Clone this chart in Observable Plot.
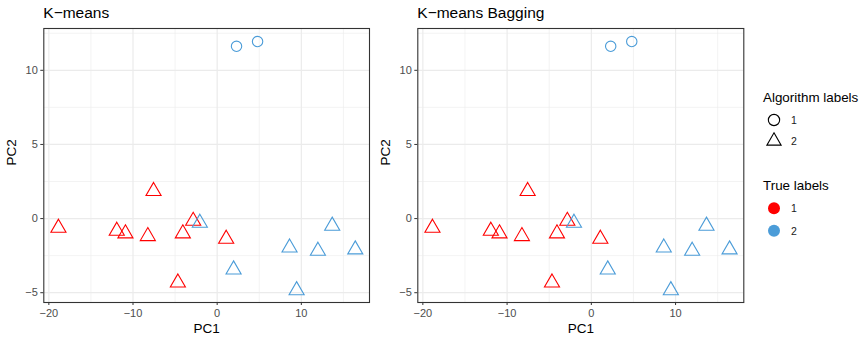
<!DOCTYPE html>
<html><head><meta charset="utf-8">
<script src="https://cdn.jsdelivr.net/npm/d3@7"></script>
<script src="https://cdn.jsdelivr.net/npm/@observablehq/plot@0.6"></script>
<style>
body{margin:0;background:#fff;font-family:"Liberation Sans",Arial,sans-serif}
#root{position:relative;width:865px;height:340px;overflow:hidden;background:#fff}
#root svg{position:absolute;top:0}
</style></head><body><div id="root"></div>
<script>
// ---- data ----
const pc1   = [2.3, 4.8, -18.86, -11.93, -10.9, -8.24, -7.56, -4.08, -2.85, -2.06, 1.07, -4.67, 1.95, 8.6, 11.97, 13.67, 16.41, 9.44];
const pc2   = [11.62, 11.94, -0.63, -0.83, -1.01, -1.19, 1.85, -1.01, -0.16, -0.29, -1.37, -4.32, -3.44, -1.96, -2.18, -0.49, -2.09, -4.84];
const algo  = [1, 1, 2, 2, 2, 2, 2, 2, 2, 2, 2, 2, 2, 2, 2, 2, 2, 2];
const truth = [2, 2, 1, 1, 1, 1, 1, 1, 1, 2, 1, 1, 2, 2, 2, 2, 2, 2];
const panelTitles = ["K\u2212means", "K\u2212means Bagging"];
const xTicks = [-20, -10, 0, 10];
const xMinor = [-15, -5, 5, 15];
const yTicks = [-5, 0, 5, 10];
const yMinor = [-2.5, 2.5, 7.5, 12.5];
const algoLabels = [1, 2];
const trueLabels = [1, 2];
const trueColors = ["#FF0000", "#4B9CD8"];
const algoSymbols = ["circle", "triangle"];

const data = pc1.map((x, i) => ({pc1: x, pc2: pc2[i], algo: algo[i], truth: truth[i]}));
const FONT = '"Liberation Sans", Arial, sans-serif';
const root = document.getElementById("root");

function panel(left, ml, mr) {
  const p = Plot.plot({
    width: 375, height: 340,
    marginLeft: ml, marginRight: mr, marginTop: 28, marginBottom: 38,
    style: {fontFamily: FONT, fontSize: "11px", color: "#4D4D4D", background: "transparent", overflow: "visible"},
    x: {domain: [-20.6, 18.1]},
    y: {domain: [-5.66, 12.82]},
    color: {domain: trueLabels, range: trueColors},
    symbol: {domain: algoLabels, range: algoSymbols},
    marks: [
      Plot.gridX(xMinor, {stroke: "#EBEBEB", strokeOpacity: 1, strokeWidth: 0.6}),
      Plot.gridY(yMinor, {stroke: "#EBEBEB", strokeOpacity: 1, strokeWidth: 0.6}),
      Plot.gridX(xTicks, {stroke: "#EBEBEB", strokeOpacity: 1, strokeWidth: 1.2}),
      Plot.gridY(yTicks, {stroke: "#EBEBEB", strokeOpacity: 1, strokeWidth: 1.2}),
      Plot.dot(data.filter(d => d.algo === 1), {x: "pc1", y: "pc2", stroke: "truth", symbol: "algo", r: 5.2, strokeWidth: 1.1}),
      Plot.dot(data.filter(d => d.algo === 2), {x: "pc1", y: "pc2", stroke: "truth", symbol: "algo", r: 5.6, strokeWidth: 1.1}),
      Plot.axisX({ticks: xTicks, tickSize: 3, tickPadding: 4, label: null, stroke: "#333333", color: "#4D4D4D"}),
      Plot.axisY({ticks: yTicks, tickSize: 3, tickPadding: 3, label: null, stroke: "#333333", color: "#4D4D4D"}),
      Plot.text(["PC1"], {frameAnchor: "bottom", lineAnchor: "bottom", dy: 30, fontSize: 13.5, fill: "#000"}),
      Plot.text(["PC2"], {frameAnchor: "left", lineAnchor: "bottom", rotate: -90, dx: -28, fontSize: 13.5, fill: "#000"}),
      Plot.frame({stroke: "#333333", strokeWidth: 1.1})
    ]
  });
  p.style.left = left + "px";
  root.appendChild(p);
}
panel(0, 43.3, 6);
panel(374, 43.3, 5.7);

// overlay: titles + legend
const svg = d3.select(root).append("svg")
  .attr("width", 865).attr("height", 340)
  .style("left", "0px").style("font-family", FONT);

svg.selectAll("text.title").data(panelTitles).join("text")
  .attr("class", "title")
  .attr("x", (d, i) => i === 0 ? 43.3 : 417.3).attr("y", 18.3)
  .attr("font-size", 15.5).attr("fill", "#000").text(d => d);

const symScale = d3.scaleOrdinal(algoLabels, [d3.symbolCircle, d3.symbolTriangle]);
const symSize = d3.scaleOrdinal(algoLabels, [100, 88]);
const colScale = d3.scaleOrdinal(trueLabels, trueColors);

svg.append("text").attr("x", 763).attr("y", 101.7).attr("font-size", 13.4).attr("fill", "#000").text("Algorithm labels");
const g1 = svg.selectAll("g.alg").data(algoLabels).join("g").attr("class", "alg")
  .attr("transform", (d, i) => `translate(774,${i === 0 ? 120 : 141})`);
g1.append("path").attr("d", d => d3.symbol(symScale(d), symSize(d))())
  .attr("fill", "none").attr("stroke", "#000").attr("stroke-width", 1.1);
g1.append("text").attr("x", 17).attr("y", 4).attr("font-size", 10.5).attr("fill", "#1A1A1A").text(d => d);

svg.append("text").attr("x", 763).attr("y", 190).attr("font-size", 13.4).attr("fill", "#000").text("True labels");
const g2 = svg.selectAll("g.tru").data(trueLabels).join("g").attr("class", "tru")
  .attr("transform", (d, i) => `translate(774,${208.3 + i * 22.4})`);
g2.append("circle").attr("r", 6).attr("fill", d => colScale(d));
g2.append("text").attr("x", 17).attr("y", 4).attr("font-size", 10.5).attr("fill", "#1A1A1A").text(d => d);
</script></body></html>
